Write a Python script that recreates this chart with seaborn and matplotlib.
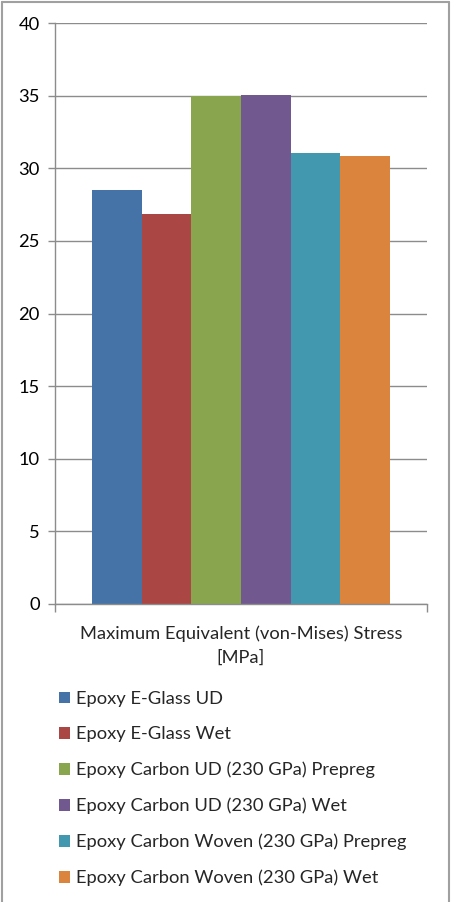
import numpy as np
import pandas as pd
import seaborn as sns
import matplotlib.pyplot as plt
from matplotlib.lines import Line2D

category = "Maximum Equivalent (von-Mises) Stress\n[MPa]"
materials = [
    "Epoxy E-Glass UD",
    "Epoxy E-Glass Wet",
    "Epoxy Carbon UD (230 GPa) Prepreg",
    "Epoxy Carbon UD (230 GPa) Wet",
    "Epoxy Carbon Woven (230 GPa) Prepreg",
    "Epoxy Carbon Woven (230 GPa) Wet",
]
stress = [28.5, 26.85, 35.0, 35.05, 31.05, 30.84]
colors = ["#4572A7", "#AA4643", "#89A54E", "#71588F", "#4198AF", "#DB843D"]
yticks = [0, 5, 10, 15, 20, 25, 30, 35, 40]

df = pd.DataFrame({"category": [category] * len(materials),
                   "material": materials,
                   "stress": stress})

sns.set_style("white")
plt.rcParams["font.family"] = ["Lato", "DejaVu Sans"]
fs = 13.2

fig = plt.figure(figsize=(4.52, 9.02), dpi=100)
ax = fig.add_axes([55 / 452, 1 - 604 / 902, (427 - 55) / 452, (604 - 23) / 902])

sns.barplot(data=df, x="category", y="stress", hue="material",
            hue_order=materials, palette=colors, width=0.8, gap=0,
            saturation=1, edgecolor="none", linewidth=0, ax=ax, legend=True)

grid_c = "#8c8c8c"
ax.set_ylim(0, 40)
ax.set_xlim(-0.5, 0.5)
ax.set_yticks(yticks)
ax.yaxis.grid(True, color=grid_c, linewidth=1)
ax.set_axisbelow(True)
for s in ["top", "right"]:
    ax.spines[s].set_visible(False)
for s in ["left", "bottom"]:
    ax.spines[s].set_color(grid_c)
    ax.spines[s].set_linewidth(1)
ax.tick_params(axis="y", length=5, width=1, color=grid_c, direction="out",
               labelsize=fs, pad=6, labelcolor="black", left=True)
ax.set_xticks([])
ax.set_xticks([-0.5, 0.5], minor=True)
ax.tick_params(axis="x", which="minor", length=6, width=1, color=grid_c,
               direction="out", bottom=True)
ax.set_xlabel(category, fontsize=fs, labelpad=6, linespacing=1.6)
ax.set_ylabel("")

handles, labels = ax.get_legend_handles_labels()
ax.legend(handles, labels, loc="upper left",
          bbox_to_anchor=(59 / 452, 1 - 691 / 902),
          bbox_transform=fig.transFigure, frameon=False, fontsize=fs,
          handlelength=0.6, handleheight=0.6, handletextpad=0.3,
          labelspacing=1.06, borderaxespad=0, borderpad=0)

border = dict(color="#a0a0a0", linewidth=1.5, transform=fig.transFigure)
fig.add_artist(Line2D([2 / 452, 2 / 452], [0, 1 - 1.5 / 902], **border))
fig.add_artist(Line2D([2 / 452, 449 / 452], [1 - 1.5 / 902, 1 - 1.5 / 902], **border))
fig.add_artist(Line2D([449 / 452, 449 / 452], [0, 1 - 1.5 / 902], **border))

fig.savefig("out.png", dpi=100)
